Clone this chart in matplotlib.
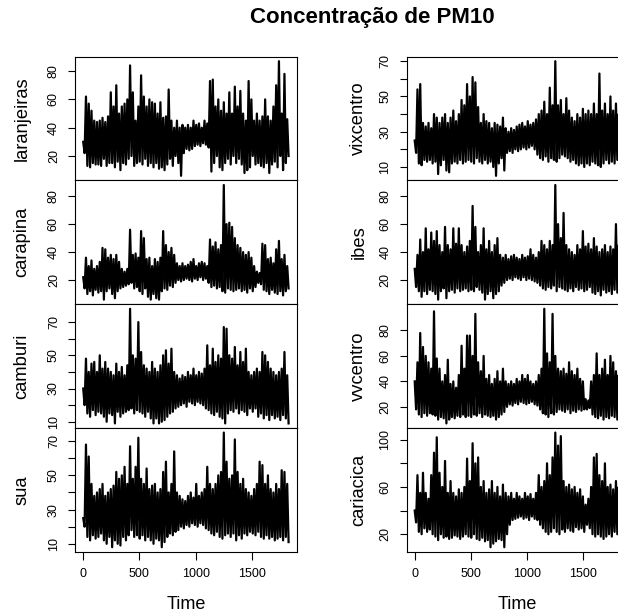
import numpy as np
import matplotlib
matplotlib.use("Agg")
import matplotlib.pyplot as plt

plt.rcParams['font.family'] = ['Liberation Sans', 'DejaVu Sans']

n_days = 1826
title = "Concentração de PM10"
x_ticks = [0, 500, 1000, 1500]
x_label = "Time"

# values (alternating band top / band bottom, ~24-day steps)
laranjeiras = [30,22, 62,13, 57,12, 52,15, 45,14, 44,14, 45,13, 47,18, 44,13, 48,15,
               65,15, 55,12, 70,16, 50,10, 55,15, 57,14, 60,18, 84,20, 65,13, 45,15,
               55,16, 77,14, 62,18, 55,13, 60,15, 58,12, 57,15, 50,11, 58,12, 47,10,
               48,14, 67,18, 45,13, 40,20, 45,15, 40,6, 42,22, 40,25, 42,24, 40,25,
               45,27, 42,28, 43,27, 40,29, 45,28, 43,26, 73,9, 74,15, 55,20, 60,12,
               52,10, 58,15, 50,18, 65,14, 50,20, 69,15, 55,18, 66,14, 50,8, 45,10,
               73,12, 60,20, 45,14, 50,15, 45,13, 48,12, 60,15, 48,8, 45,14, 55,16,
               70,12, 87,20, 50,10, 78,15, 46,20]
carapina = [22,14, 36,10, 30,12, 34,9, 28,13, 30,11, 33,12, 43,6, 42,12, 36,14,
            38,10, 35,7, 38,12, 33,14, 28,15, 26,16, 28,17, 56,18, 38,14, 39,15,
            36,12, 55,10, 50,14, 35,8, 36,6, 30,10, 35,7, 33,6, 36,12, 55,14,
            45,13, 40,16, 43,15, 38,18, 32,20, 30,19, 32,20, 30,21, 31,20, 33,19,
            35,21, 30,20, 32,22, 33,20, 32,21, 30,18, 49,15, 44,16, 47,14, 42,15,
            45,12, 88,11, 60,14, 61,13, 58,12, 50,13, 45,14, 43,12, 40,13, 38,11,
            40,14, 36,12, 30,15, 26,18, 25,17, 46,13, 45,12, 35,10, 36,13, 32,11,
            42,10, 48,12, 35,9, 38,12, 30,14]
camburi = [30,20, 48,15, 40,13, 45,17, 46,14, 40,16, 50,15, 42,13, 46,10, 42,15,
           40,14, 38,9, 45,16, 40,13, 43,15, 38,16, 44,17, 78,18, 50,15, 48,17,
           70,16, 52,15, 44,13, 42,16, 40,12, 46,9, 42,12, 40,9, 44,10, 50,11,
           53,13, 45,15, 54,16, 40,18, 38,19, 36,20, 38,21, 37,19, 40,22, 38,21,
           42,20, 38,22, 40,21, 39,20, 42,18, 56,17, 44,15, 54,14, 46,16, 50,13,
           48,12, 67,9, 66,15, 50,17, 48,16, 55,18, 44,15, 52,17, 46,16, 54,14,
           40,18, 38,16, 40,18, 42,13, 40,15, 52,12, 50,14, 46,11, 42,14, 40,12,
           38,13, 40,11, 42,14, 52,12, 38,9]
sua = [25,20, 68,14, 61,12, 45,15, 38,13, 40,14, 42,16, 45,12, 38,10, 40,14,
       42,8, 44,12, 52,10, 48,9, 50,14, 55,12, 45,15, 67,18, 48,14, 55,15,
       72,13, 48,15, 45,12, 54,14, 42,12, 44,10, 45,13, 40,12, 42,8, 52,11,
       58,14, 40,16, 45,15, 64,17, 40,18, 38,20, 36,19, 35,21, 38,20, 40,22,
       37,21, 45,20, 38,22, 40,21, 42,19, 55,18, 45,16, 42,15, 45,17, 50,14,
       52,13, 75,15, 58,16, 48,14, 50,16, 71,12, 52,15, 45,13, 48,16, 42,15,
       40,17, 38,16, 42,15, 45,17, 58,14, 56,13, 45,15, 50,13, 42,14, 40,12,
       45,13, 42,14, 53,12, 52,14, 45,11]
vixcentro = [25,18, 54,12, 57,11, 35,14, 33,13, 35,14, 32,12, 40,13, 38,6, 35,11,
             38,14, 40,8, 35,7, 38,12, 42,13, 36,12, 40,14, 48,12, 45,13, 57,14,
             50,13, 61,12, 58,15, 44,13, 35,12, 40,14, 36,12, 35,13, 32,10, 35,5,
             34,12, 33,15, 38,8, 32,18, 30,19, 32,18, 31,20, 33,19, 34,20, 35,21,
             33,20, 36,21, 34,22, 35,20, 37,17, 40,15, 42,14, 47,16, 40,13, 55,15,
             45,14, 70,13, 45,15, 48,17, 40,16, 49,15, 42,13, 38,14, 36,12, 40,11,
             38,12, 43,10, 40,12, 42,11, 40,13, 46,12, 40,11, 63,10, 42,12, 46,14,
             40,12, 50,13, 42,12, 46,14, 40,13]
ibes = [28,15, 38,12, 49,8, 40,12, 57,10, 42,13, 54,12, 48,10, 55,6, 45,12,
        40,14, 58,7, 45,12, 42,13, 57,11, 46,14, 57,12, 45,13, 40,14, 44,12,
        48,13, 73,12, 58,15, 40,13, 45,11, 57,6, 42,10, 48,12, 40,7, 45,10,
        50,12, 38,16, 36,18, 38,20, 35,21, 37,20, 38,22, 36,21, 35,20, 38,22,
        36,20, 37,21, 42,20, 38,19, 36,18, 40,16, 48,14, 45,13, 42,15, 48,14,
        45,16, 88,12, 60,15, 50,14, 68,13, 45,12, 42,14, 40,12, 38,15, 45,13,
        42,14, 55,12, 44,13, 46,15, 42,11, 50,10, 44,12, 40,9, 42,13, 45,11,
        40,12, 44,10, 42,13, 60,11, 45,14]
vvcentro = [40,18, 55,14, 78,12, 67,15, 60,13, 55,15, 50,14, 95,13, 58,10, 50,12,
            40,11, 45,7, 57,10, 38,12, 40,11, 35,13, 45,12, 68,14, 50,12, 76,13,
            76,12, 60,14, 93,13, 55,15, 48,12, 60,14, 42,13, 45,12, 38,13, 42,10,
            48,12, 40,14, 50,16, 40,20, 38,22, 40,21, 38,23, 42,22, 40,24, 45,23,
            42,22, 45,23, 40,24, 38,22, 40,21, 45,18, 50,15, 97,14, 62,12, 55,15,
            93,14, 60,16, 50,18, 48,17, 50,16, 46,18, 55,15, 48,17, 45,16, 50,18,
            42,17, 40,18, 26,18, 25,19, 40,14, 45,12, 62,11, 45,13, 50,10, 57,12,
            45,11, 60,13, 55,12, 48,10, 45,14]
cariacica = [40,30, 70,22, 55,20, 72,25, 55,22, 50,24, 70,20, 89,18, 102,15, 72,20,
             60,17, 82,18, 55,16, 65,17, 55,19, 52,18, 58,16, 55,18, 60,20, 84,18,
             65,17, 97,20, 80,16, 85,15, 60,17, 65,14, 55,15, 58,9, 65,12, 55,14,
             60,16, 52,15, 62,9, 55,20, 52,28, 55,32, 50,33, 55,34, 52,35, 50,33,
             55,34, 52,32, 54,35, 50,33, 55,32, 70,28, 60,25, 65,22, 80,20, 70,22,
             85,25, 106,22, 95,20, 103,24, 65,22, 60,25, 62,23, 58,22, 60,26, 55,24,
             58,25, 52,22, 45,28, 50,25, 60,20, 85,18, 88,20, 70,18, 65,16, 80,18,
             60,20, 62,18, 58,22, 65,20, 60,22]

left_names = ["laranjeiras", "carapina", "camburi", "sua"]
right_names = ["vixcentro", "ibes", "vvcentro", "cariacica"]
left_series = [laranjeiras, carapina, camburi, sua]
right_series = [vixcentro, ibes, vvcentro, cariacica]

left_yticks = [[20, 40, 60, 80], [20, 40, 60, 80],
               [10, 20, 30, 40, 50, 60, 70], [10, 20, 30, 40, 50, 60, 70]]
left_ylabels = [["20", "40", "60", "80"], ["20", "40", "60", "80"],
                ["10", "", "30", "", "50", "", "70"], ["10", "", "30", "", "50", "", "70"]]
right_yticks = [[10, 20, 30, 40, 50, 60, 70], [20, 40, 60, 80],
                [20, 40, 60, 80], [20, 40, 60, 80, 100]]
right_ylabels = [["10", "", "30", "", "50", "", "70"], ["20", "40", "60", "80"],
                 ["20", "40", "60", "80"], ["20", "", "60", "", "100"]]

W, H = 618, 615
fig = plt.figure(figsize=(W / 100, H / 100), dpi=100)
fig.patch.set_facecolor("white")

panel_top = 56.6
panel_h = 123.8
col_x = [75.0, 406.5]
col_w = 221.8
name_x = [26.7, 363.3]

columns = [(left_names, left_series, left_yticks, left_ylabels),
           (right_names, right_series, right_yticks, right_ylabels)]

for c, (names, series, yt, yl) in enumerate(columns):
    for r in range(4):
        top = panel_top + r * panel_h
        ax = fig.add_axes([col_x[c] / W, 1 - (top + panel_h) / H, col_w / W, panel_h / H])
        vals = np.array(series[r], dtype=float)
        t = np.linspace(1, n_days, len(vals))
        ax.plot(t, vals, color="black", lw=1.6, solid_joinstyle="round")
        ax.margins(x=0.04, y=0.04)
        ax.set_yticks(yt[r])
        ax.set_yticklabels(yl[r], rotation=90, va="center")
        ax.tick_params(axis="both", direction="out", length=5.4, width=0.8,
                       labelsize=9, color="black")
        ax.tick_params(axis="y", pad=5.5)
        if r == 3:
            ax.set_xticks(x_ticks)
            ax.tick_params(axis="x", pad=6.5)
        else:
            ax.tick_params(axis="x", bottom=False, labelbottom=False)
        for s in ax.spines.values():
            s.set_linewidth(0.8)
            s.set_color("black")
        cy = top + panel_h / 2
        fig.text(name_x[c] / W, 1 - cy / H, names[r], rotation=90,
                 rotation_mode="anchor", ha="center", va="baseline", fontsize=13.2)
    fig.text((col_x[c] + col_w / 2) / W, 1 - 609.3 / H, x_label,
             ha="center", va="baseline", fontsize=13)

fig.text(372 / W, 1 - 23.3 / H, title, ha="center", va="baseline",
         fontsize=16, fontweight="bold")

fig.savefig("out.png", dpi=100, facecolor="white")
